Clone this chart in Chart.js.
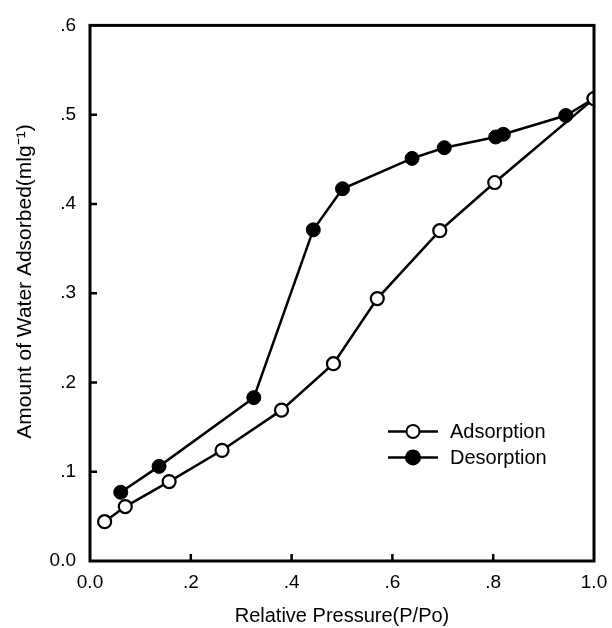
<!DOCTYPE html>
<html>
<head>
<meta charset="utf-8">
<script src="https://cdn.jsdelivr.net/npm/chart.js@4"></script>
<style>
  html, body { margin: 0; padding: 0; background: #fff; }
  #wrap { width: 612px; height: 628px; }
</style>
</head>
<body>
<div id="wrap"><canvas id="iso"></canvas></div>
<script>
// adsorption branch (P/Po, ml/g)
const adsX = [0.029, 0.070, 0.157, 0.262, 0.380, 0.483, 0.570, 0.694, 0.803, 1.0];
const adsY = [0.044, 0.061, 0.089, 0.124, 0.169, 0.221, 0.294, 0.370, 0.424, 0.518];
// desorption branch
const desX = [0.061, 0.137, 0.325, 0.443, 0.501, 0.639, 0.703, 0.805, 0.820, 0.944, 1.0];
const desY = [0.077, 0.106, 0.183, 0.371, 0.417, 0.451, 0.463, 0.475, 0.478, 0.499, 0.518];

const xTicks = [0, 0.2, 0.4, 0.6, 0.8, 1.0];
const xTickLabels = ['0.0', '.2', '.4', '.6', '.8', '1.0'];
const yTicks = [0, 0.1, 0.2, 0.3, 0.4, 0.5, 0.6];
const yTickLabels = ['0.0', '.1', '.2', '.3', '.4', '.5', '.6'];

const FONT = '"Liberation Sans", Arial, sans-serif';

const toPoints = (xs, ys) => xs.map((x, i) => ({ x, y: ys[i] }));

// frame, inward ticks and the inset legend
const framePlugin = {
  id: 'frame',
  afterDraw(chart) {
    const { ctx, chartArea: a, scales } = chart;
    ctx.save();
    ctx.strokeStyle = '#000';
    ctx.lineWidth = 3;
    ctx.strokeRect(a.left, a.top, a.right - a.left, a.bottom - a.top);

    ctx.lineWidth = 2.5;
    ctx.beginPath();
    for (const v of xTicks.slice(1, -1)) {
      const px = scales.x.getPixelForValue(v);
      ctx.moveTo(px, a.bottom);
      ctx.lineTo(px, a.bottom - 7);
    }
    for (const v of yTicks.slice(1, -1)) {
      const py = scales.y.getPixelForValue(v);
      ctx.moveTo(a.left, py);
      ctx.lineTo(a.left + 7, py);
    }
    ctx.stroke();

    // legend
    const lx = a.left + 298;
    const rows = [
      { ds: chart.data.datasets[0], y: a.top + 406 },
      { ds: chart.data.datasets[1], y: a.top + 432 },
    ];
    ctx.font = '20px ' + FONT;
    ctx.textBaseline = 'middle';
    for (const r of rows) {
      ctx.lineWidth = 2.5;
      ctx.strokeStyle = '#000';
      ctx.beginPath();
      ctx.moveTo(lx, r.y);
      ctx.lineTo(lx + 50, r.y);
      ctx.stroke();
      ctx.beginPath();
      ctx.arc(lx + 25, r.y, r.ds.pointRadius, 0, Math.PI * 2);
      ctx.fillStyle = r.ds.pointBackgroundColor;
      ctx.fill();
      ctx.lineWidth = 2;
      ctx.stroke();
      ctx.fillStyle = '#000';
      ctx.fillText(r.ds.label, lx + 62, r.y + 1);
    }
    ctx.restore();
  },
};

new Chart(document.getElementById('iso'), {
  type: 'scatter',
  data: {
    datasets: [
      {
        label: 'Adsorption',
        data: toPoints(adsX, adsY),
        showLine: true,
        borderColor: '#000',
        borderWidth: 2.5,
        pointRadius: 6.5,
        pointBorderWidth: 2.2,
        pointBackgroundColor: '#fff',
        pointBorderColor: '#000',
      },
      {
        label: 'Desorption',
        data: toPoints(desX, desY),
        showLine: true,
        borderColor: '#000',
        borderWidth: 2.5,
        pointRadius: 7,
        pointBorderWidth: 1,
        pointBackgroundColor: '#000',
        pointBorderColor: '#000',
      },
    ],
  },
  options: {
    responsive: true,
    maintainAspectRatio: false,
    animation: false,
    layout: { padding: { left: 0, right: 18, top: 11, bottom: 0 } },
    plugins: {
      legend: { display: false },
      tooltip: { enabled: false },
    },
    scales: {
      x: {
        type: 'linear',
        min: 0,
        max: 1,
        afterBuildTicks: (s) => { s.ticks = xTicks.map((v) => ({ value: v })); },
        afterFit: (s) => {
          s.height = 67;
          s.paddingLeft = 0;
          s.paddingRight = 0;
        },
        grid: { display: false, drawTicks: false },
        border: { display: false },
        ticks: {
          color: '#000',
          font: { family: FONT, size: 19 },
          padding: 10,
          callback: (v) => xTickLabels[xTicks.indexOf(v)],
        },
        title: {
          display: true,
          text: 'Relative Pressure(P/Po)',
          color: '#000',
          font: { family: FONT, size: 20 },
          padding: { top: 4, bottom: 0 },
        },
      },
      y: {
        type: 'linear',
        min: 0,
        max: 0.6,
        afterBuildTicks: (s) => { s.ticks = yTicks.map((v) => ({ value: v })); },
        afterFit: (s) => { s.width = 90; },
        grid: { display: false, drawTicks: false },
        border: { display: false },
        ticks: {
          color: '#000',
          font: { family: FONT, size: 19 },
          padding: 14,
          callback: (v) => yTickLabels[yTicks.findIndex((t) => Math.abs(t - v) < 1e-9)],
        },
        title: {
          display: true,
          // leading spaces nudge the rotated title up a little
          text: '    Amount of Water Adsorbed(mlg\u207B\u00B9)',
          color: '#000',
          font: { family: FONT, size: 21 },
          padding: { top: 13, bottom: 0 },
        },
      },
    },
  },
  plugins: [framePlugin],
});
</script>
</body>
</html>
